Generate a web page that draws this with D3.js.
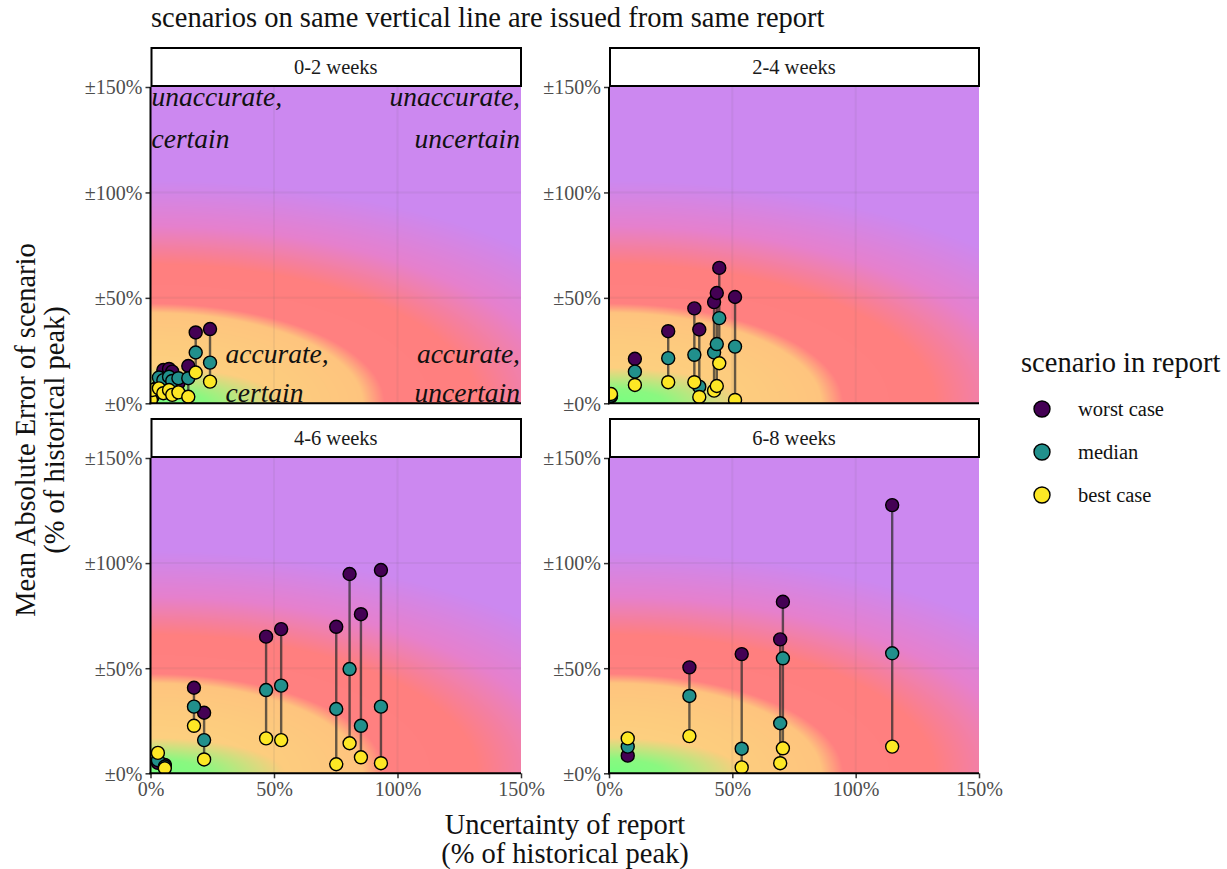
<!DOCTYPE html>
<html>
<head>
<meta charset="utf-8">
<script src="https://cdn.jsdelivr.net/npm/d3@7"></script>
<style>
  html, body { margin: 0; padding: 0; background: #fff; }
  svg { display: block; font-family: "Liberation Serif", "Times New Roman", serif; }
  svg text { font-family: "Liberation Serif", "Times New Roman", serif; }
</style>
</head>
<body>
<svg id="chart" width="1227" height="869"></svg>
<script>
// ---- data -------------------------------------------------------------
const facets = ["0-2 weeks", "2-4 weeks", "4-6 weeks", "6-8 weeks"];
const scenarios = ["worst case", "median", "best case"];
const scenarioColors = ["#440154", "#21908C", "#FDE725"];
const xTicks = [0, 50, 100, 150];
const xTickLabels = ["0%", "50%", "100%", "150%"];
const yTicks = [0, 50, 100, 150];
const yTickLabels = ["±0%", "±50%", "±100%", "±150%"];

// uncertainty of each report (% of historical peak) and the error of its scenarios
const uncertainty02 = [0.2, 0.8, 3.4, 5.2, 7.5, 8.8, 11.3, 15.3, 18.3, 24.1];
const worst02  = [1.5, 3.0, 8.5, 15.8, 16.3, 15.0, 9.5, 17.7, 33.6, 35.2];
const median02 = [2.0, 4.0, 12.2, 11.0, 12.6, 10.6, 11.9, 11.9, 24.1, 19.3];
const best02   = [1.6, 6.3, 7.1, 4.8, 6.3, 4.0, 5.2, 3.1, 14.6, 10.3];

const uncertainty24 = [0.8, 10.5, 24.0, 34.6, 36.6, 42.6, 43.7, 44.7, 51.1];
const worst24  = [3.3, 21.1, 34.2, 45.0, 35.0, 48.0, 52.3, 64.2, 50.4];
const median24 = [3.6, 15.0, 21.4, 23.0, 7.9, 24.1, 28.1, 40.4, 26.9];
const best24   = [4.4, 8.7, 10.0, 10.0, 3.0, 6.0, 8.2, 19.0, 1.6];

const uncertainty46 = [3.0, 5.8, 17.6, 21.7, 46.8, 52.9, 75.2, 80.6, 85.2, 93.3];
const worst46  = [5.0, 4.0, 40.7, 28.8, 65.0, 68.6, 69.7, 94.8, 75.7, 96.7];
const median46 = [6.2, 3.2, 31.7, 15.8, 39.6, 41.7, 30.6, 49.6, 22.6, 31.7];
const best46   = [9.7, 2.4, 22.6, 6.6, 16.6, 15.8, 4.3, 14.3, 7.6, 4.8];

const uncertainty68 = [7.6, 32.6, 53.8, 69.4, 70.5, 114.8];
const worst68  = [8.4, 50.4, 56.7, 63.7, 81.6, 127.6];
const median68 = [12.7, 36.8, 11.7, 23.8, 54.7, 57.1];
const best68   = [16.6, 17.7, 2.8, 4.8, 11.9, 12.7];

// quadrant annotations in the first facet
const annotations = [
  { x: 0,   y: 150, anchor: "start", lines: ["unaccurate,", "certain"] },
  { x: 150, y: 150, anchor: "end",   lines: ["unaccurate,", "uncertain"] },
  { x: 30,  y: 0,   anchor: "start", lines: ["accurate,", "certain"] },
  { x: 150, y: 0,   anchor: "end",   lines: ["accurate,", "uncertain"] }
];

const facetData = [
  [uncertainty02, worst02, median02, best02],
  [uncertainty24, worst24, median24, best24],
  [uncertainty46, worst46, median46, best46],
  [uncertainty68, worst68, median68, best68]
];

// ---- layout -----------------------------------------------------------
const colX = [[150.5, 521], [609, 979]];
const rowY = [[87, 403.3], [458, 773.3]];
const stripH = 39;

const svg = d3.select("#chart");

// background field: elliptical distance from the "accurate & certain" corner
const fieldColor = d3.scaleLinear()
  .domain([0, 16, 30, 43, 47.5, 66, 84, 106])
  .range(["#FDD57F", "#FDD07F", "#FDCB7E", "#FEC47E",
          "#FF8080", "#FF7F7F", "#E680CD", "#CC88F0"])
  .clamp(true);
// green glow right at the corner, stretched along the uncertainty axis
const greenGlow = d3.scaleLinear().domain([0, 7, 17]).range([1, 0.85, 0]).clamp(true);

svg.append("text")
  .attr("x", 151).attr("y", 27)
  .attr("font-size", 28.5)
  .attr("fill", "#111")
  .text("scenarios on same vertical line are issued from same report");

const defs = svg.append("defs");

facets.forEach((name, fi) => {
  const c = fi % 2, r = Math.floor(fi / 2);
  const [x0, x1] = colX[c];
  const [y0, y1] = rowY[r];
  const xs = d3.scaleLinear().domain([0, 150]).range([x0, x1]);
  const ys = d3.scaleLinear().domain([0, 150]).range([y1, y0]);

  const g = svg.append("g");
  const clipId = "clip" + fi;
  defs.append("clipPath").attr("id", clipId)
    .append("rect").attr("x", x0).attr("y", y0).attr("width", x1 - x0).attr("height", y1 - y0);

  // raster background
  const cw = Math.round(x1 - x0), ch = Math.round(y1 - y0);
  const canvas = document.createElement("canvas");
  canvas.width = cw; canvas.height = ch;
  const ctx = canvas.getContext("2d");
  const img = ctx.createImageData(cw, ch);
  for (let j = 0; j < ch; j++) {
    const yv = ys.invert(y0 + j + 0.5);
    for (let i = 0; i < cw; i++) {
      const xv = xs.invert(x0 + i + 0.5);
      const d = Math.hypot(xv / 2, yv);
      let col = d3.rgb(fieldColor(d));
      const gl = greenGlow(Math.hypot(xv / 3.2, yv));
      if (gl > 0) col = d3.rgb(d3.interpolateRgb(col, "#76FF80")(gl));
      const k = (j * cw + i) * 4;
      img.data[k] = col.r; img.data[k + 1] = col.g; img.data[k + 2] = col.b; img.data[k + 3] = 255;
    }
  }
  ctx.putImageData(img, 0, 0);
  g.append("image")
    .attr("x", x0).attr("y", y0).attr("width", x1 - x0).attr("height", y1 - y0)
    .attr("preserveAspectRatio", "none")
    .attr("href", canvas.toDataURL());

  // grid
  const grid = g.append("g").attr("stroke", "#5a5a5a").attr("stroke-opacity", 0.08).attr("stroke-width", 2);
  [50, 100].forEach(v => {
    grid.append("line").attr("x1", xs(v)).attr("x2", xs(v)).attr("y1", y0).attr("y2", y1);
    grid.append("line").attr("x1", x0).attr("x2", x1).attr("y1", ys(v)).attr("y2", ys(v));
  });

  if (fi === 0) {
    const ann = g.append("g").attr("font-style", "italic").attr("font-size", 27.5).attr("fill", "#111")
      .attr("clip-path", `url(#${clipId})`);
    annotations.forEach(a => {
      a.lines.forEach((t, li) => {
        const base = a.y > 0 ? ys(a.y) + 19 + li * 42 : ys(a.y) - 40 + li * 39;
        ann.append("text")
          .attr("x", xs(a.x) + (a.anchor === "start" ? 1 : -1))
          .attr("y", base)
          .attr("text-anchor", a.anchor)
          .text(t);
      });
    });
  }

  const plot = g.append("g").attr("clip-path", `url(#${clipId})`);
  const [ux, worst, median, best] = facetData[fi];
  const rows = ux.map((x, i) => ({ x, vals: [worst[i], median[i], best[i]] }));

  // vertical segments joining the scenarios of one report
  plot.selectAll("line.seg").data(rows).join("line")
    .attr("class", "seg")
    .attr("x1", d => xs(d.x)).attr("x2", d => xs(d.x))
    .attr("y1", d => ys(d3.min(d.vals))).attr("y2", d => ys(d3.max(d.vals)))
    .attr("stroke", "#2b2b2b").attr("stroke-opacity", 0.72).attr("stroke-width", 2.4);

  scenarios.forEach((s, si) => {
    plot.selectAll("circle.s" + si).data(rows).join("circle")
      .attr("class", "s" + si)
      .attr("cx", d => xs(d.x)).attr("cy", d => ys(d.vals[si]))
      .attr("r", 6.5)
      .attr("fill", scenarioColors[si])
      .attr("stroke", "#000").attr("stroke-width", 1.4);
  });

  // axes
  const yAxis = d3.axisLeft(ys).tickValues(yTicks).tickSize(5).tickPadding(3)
    .tickFormat((d, i) => yTickLabels[i]);
  const ya = g.append("g").attr("transform", `translate(${x0},0)`).call(yAxis);
  ya.attr("font-family", null).attr("font-size", null);
  ya.select(".domain").remove();
  ya.selectAll(".tick line").attr("stroke", "#333").attr("stroke-width", 1.5);
  ya.selectAll(".tick text").attr("fill", "#4D4D4D").attr("font-size", 20).attr("dy", "0.34em");

  if (r === 1) {
    const xAxis = d3.axisBottom(xs).tickValues(xTicks).tickSize(5).tickPadding(4)
      .tickFormat((d, i) => xTickLabels[i]);
    const xa = g.append("g").attr("transform", `translate(0,${y1})`).call(xAxis);
    xa.attr("font-family", null).attr("font-size", null);
    xa.select(".domain").remove();
    xa.selectAll(".tick line").attr("stroke", "#333").attr("stroke-width", 1.5);
    xa.selectAll(".tick text").attr("fill", "#4D4D4D").attr("font-size", 20);
  }
  g.append("line").attr("x1", x0).attr("x2", x0).attr("y1", y0).attr("y2", y1 + 1)
    .attr("stroke", "#000").attr("stroke-width", 2);
  g.append("line").attr("x1", x0 - 1).attr("x2", x1).attr("y1", y1).attr("y2", y1)
    .attr("stroke", "#000").attr("stroke-width", 2);

  // facet strip
  g.append("rect").attr("x", x0 + 1).attr("y", y0 - stripH).attr("width", x1 - x0 - 1).attr("height", stripH - 1)
    .attr("fill", "#fff").attr("stroke", "#000").attr("stroke-width", 2);
  g.append("text").attr("x", (x0 + x1) / 2).attr("y", y0 - stripH / 2 + 6)
    .attr("text-anchor", "middle").attr("font-size", 20.5).attr("fill", "#1a1a1a").text(name);
});

// axis titles
const xTitle = svg.append("text").attr("text-anchor", "middle").attr("font-size", 28.5).attr("fill", "#111");
xTitle.append("tspan").attr("x", 565).attr("y", 834).text("Uncertainty of report");
xTitle.append("tspan").attr("x", 565).attr("y", 863).text("(% of historical peak)");

const yTitle = svg.append("text").attr("text-anchor", "middle").attr("font-size", 28.5).attr("fill", "#111")
  .attr("transform", "translate(0,430) rotate(-90)");
yTitle.append("tspan").attr("x", 0).attr("y", 35).text("Mean Absolute Error of scenario");
yTitle.append("tspan").attr("x", 0).attr("y", 64).text("(% of historical peak)");

// legend
const legend = svg.append("g");
legend.append("text").attr("x", 1021).attr("y", 372).attr("font-size", 28.5).attr("fill", "#111")
  .text("scenario in report");
scenarios.forEach((s, i) => {
  const cy = 409 + i * 43;
  legend.append("circle").attr("cx", 1042).attr("cy", cy).attr("r", 8)
    .attr("fill", scenarioColors[i]).attr("stroke", "#000").attr("stroke-width", 1.4);
  legend.append("text").attr("x", 1078).attr("y", cy + 7).attr("font-size", 20.5).attr("fill", "#111").text(s);
});
</script>
</body>
</html>
